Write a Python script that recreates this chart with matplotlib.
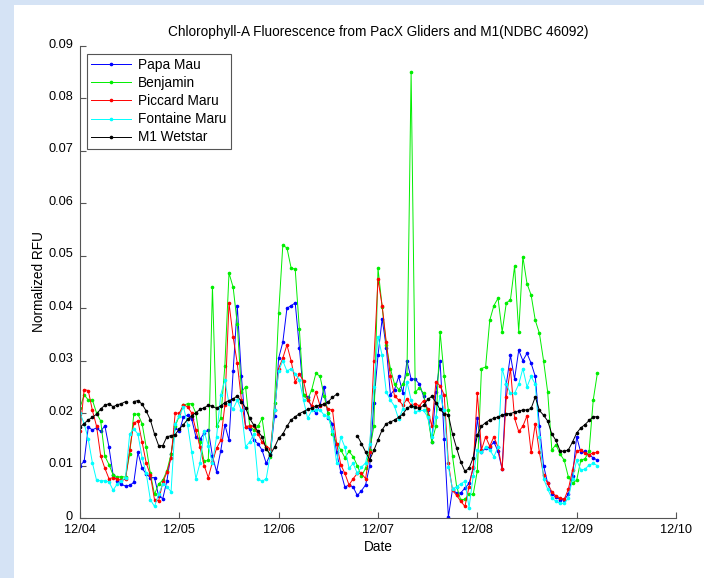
import numpy as np
import pandas as pd
import matplotlib
matplotlib.use("Agg")
import matplotlib.pyplot as plt
import matplotlib.dates as mdates
import matplotlib.transforms as mtransforms
from matplotlib.patches import Rectangle

plt.rcParams['font.family'] = ['Liberation Sans', 'DejaVu Sans']

start = "2010-12-04 00:00"
xlim_dates = ["2010-12-04", "2010-12-10"]
series_names = ["Papa Mau", "Benjamin", "Piccard Maru", "Fontaine Maru", "M1 Wetstar"]
series_colors = ["#0000ff", "#00ee00", "#ff0000", "#00ffff", "#000000"]
nan = np.nan

# hourly samples from 12/04 00:00
papa_mau = [
    0.010, 0.0108, 0.0173, 0.0168, 0.0172, 0.0165, 0.0176, 0.0135, 0.0082, 0.0071, 0.0064, 0.0061,
    0.0062, 0.0068, 0.0125, 0.0095, 0.0084, 0.0077, 0.0077, 0.0042, 0.0037, 0.0071, 0.0122, 0.0172,
    0.0165, 0.0193, 0.0196, 0.0188, 0.0155, 0.015, 0.0162, 0.0168, 0.0118, 0.0088, 0.0128, 0.0178,
    0.0148, 0.028, 0.0405, 0.027, 0.0174, 0.017, 0.0148, 0.0142, 0.0129, 0.0104, 0.0122, 0.0195,
    0.0305, 0.0335, 0.040, 0.0405, 0.041, 0.0325, 0.0235, 0.023, 0.021, 0.020, 0.0215, 0.025,
    0.019, 0.018, 0.0125, 0.0088, 0.0059, 0.0063, 0.0059, 0.0043, 0.0052, 0.0063, 0.010, 0.022,
    0.031, 0.038, 0.0325, 0.0235, 0.0245, 0.027, 0.0238, 0.030, 0.0265, 0.0265, 0.0255, 0.0232,
    0.0206, 0.0145, 0.024, 0.030, 0.015, 0.0002, 0.0055, 0.0047, 0.0048, 0.0057, 0.0066, 0.0095,
    0.019, 0.0125, 0.0133, 0.0135, 0.0145, 0.0127, 0.0093, 0.0255, 0.031, 0.0265, 0.032, 0.030,
    0.0314, 0.0295, 0.027, 0.0175, 0.010, 0.0066, 0.0045, 0.004, 0.0035, 0.0035, 0.0045, 0.008,
    0.0155, 0.0125, 0.0127, 0.012, 0.0115, 0.011,
]
benjamin = [
    0.021, 0.0235, 0.0225, 0.0225, 0.020, 0.0185, 0.0118, 0.0102, 0.0082, 0.0078, 0.0079, 0.0078,
    0.0122, 0.0198, 0.0198, 0.018, 0.0135, 0.0085, 0.0045, 0.0065, 0.0072, 0.009, 0.0122, 0.0175,
    0.0195, 0.0215, 0.0218, 0.0218, 0.020, 0.0145, 0.0108, 0.011, 0.0441, 0.0175, 0.019, 0.029,
    0.0467, 0.044, 0.037, 0.024, 0.025, 0.0175, 0.0168, 0.0175, 0.019, 0.0135, 0.0117, 0.022,
    0.039, 0.052, 0.0515, 0.0477, 0.0474, 0.036, 0.0235, 0.0225, 0.0245, 0.0276, 0.027, 0.0232,
    0.020, 0.016, 0.0142, 0.013, 0.0115, 0.0127, 0.0117, 0.010, 0.008, 0.0095, 0.013, 0.0175,
    0.0476, 0.0403, 0.033, 0.0285, 0.0255, 0.0245, 0.0255, 0.0275, 0.085, 0.024, 0.0248, 0.0238,
    0.0195, 0.0145, 0.0175, 0.0355, 0.027, 0.0205, 0.0118, 0.006, 0.0034, 0.0036, 0.0045, 0.0045,
    0.009, 0.0285, 0.0288, 0.0377, 0.0405, 0.0419, 0.0355, 0.041, 0.0416, 0.048, 0.0355, 0.0498,
    0.0447, 0.0425, 0.0377, 0.0352, 0.030, 0.024, 0.013, 0.014, 0.0122, 0.011, 0.0078, 0.0067,
    0.0072, 0.011, 0.0113, 0.0127, 0.0225, 0.0276,
]
piccard_maru = [
    0.0165, 0.0245, 0.0243, 0.0205, 0.0175, 0.0118, 0.0095, 0.0075, 0.0077, 0.0074, 0.0072, 0.0074,
    0.013, 0.0181, 0.0185, 0.0145, 0.0105, 0.0082, 0.0035, 0.0033, 0.0068, 0.0087, 0.0115, 0.020,
    0.020, 0.0216, 0.0212, 0.020, 0.0168, 0.0135, 0.010, 0.0077, 0.0107, 0.0133, 0.0148, 0.0215,
    0.041, 0.0345, 0.0295, 0.0225, 0.0174, 0.0176, 0.0175, 0.016, 0.0145, 0.0136, 0.0132, 0.0205,
    0.0285, 0.0305, 0.033, 0.030, 0.026, 0.0274, 0.0262, 0.0225, 0.0214, 0.024, 0.0214, 0.0218,
    0.0207, 0.0206, 0.0142, 0.0102, 0.0085, 0.0063, 0.0075, 0.0085, 0.0085, 0.0075, 0.0125, 0.030,
    0.0455, 0.0405, 0.0335, 0.027, 0.0233, 0.0225, 0.0215, 0.0227, 0.0215, 0.0218, 0.0214, 0.0224,
    0.0208, 0.0175, 0.026, 0.0252, 0.0235, 0.0105, 0.0053, 0.0043, 0.0032, 0.0022, 0.006, 0.0098,
    0.0238, 0.013, 0.0155, 0.0137, 0.0155, 0.0135, 0.0093, 0.023, 0.0285, 0.019, 0.0165, 0.0175,
    0.0195, 0.0125, 0.018, 0.0125, 0.0082, 0.0066, 0.005, 0.0042, 0.0038, 0.0036, 0.0055, 0.0092,
    0.0127, 0.013, 0.0123, 0.0121, 0.0124, 0.0125,
]
fontaine_maru = [
    0.020, 0.018, 0.015, 0.0105, 0.0072, 0.0071, 0.0071, 0.0069, 0.0053, 0.0065, 0.0071, 0.0077,
    0.016, 0.017, 0.016, 0.0115, 0.0085, 0.0035, 0.0022, 0.0045, 0.0065, 0.006, 0.005, 0.018,
    0.0195, 0.0212, 0.0178, 0.0125, 0.0075, 0.0105, 0.0165, 0.0138, 0.0104, 0.0155, 0.0235, 0.0263,
    0.0218, 0.0208, 0.0225, 0.0205, 0.0136, 0.0145, 0.016, 0.0075, 0.007, 0.0075, 0.0122, 0.0205,
    0.028, 0.030, 0.028, 0.0285, 0.0275, 0.0263, 0.0225, 0.019, 0.0205, 0.0206, 0.0206, 0.0196,
    0.0193, 0.0165, 0.0105, 0.0155, 0.0135, 0.0095, 0.0104, 0.0085, 0.0097, 0.0105, 0.0142, 0.025,
    0.0346, 0.031, 0.024, 0.0225, 0.0213, 0.0188, 0.0208, 0.026, 0.0225, 0.0202, 0.0205, 0.0205,
    0.0193, 0.0155, 0.0193, 0.0233, 0.0205, 0.0098, 0.0055, 0.006, 0.0065, 0.007, 0.002, 0.008,
    0.013, 0.0125, 0.0135, 0.013, 0.0117, 0.0135, 0.0285, 0.0255, 0.0238, 0.0238, 0.0255, 0.0285,
    0.025, 0.027, 0.0255, 0.0155, 0.0075, 0.0055, 0.0038, 0.0032, 0.0028, 0.0028, 0.0038, 0.0075,
    0.011, 0.0092, 0.0093, 0.0101, 0.0104, 0.010,
]
m1_wetstar = [
    0.0173, 0.018, 0.0187, 0.0192, 0.0198, 0.0208, 0.0215, 0.0218, 0.0212, 0.0216, 0.0218, 0.0222,
    nan, 0.0222, 0.0224, 0.0217, 0.0204, 0.0187, 0.016, 0.0138, 0.0138, 0.0155, 0.0157, 0.0159,
    0.017, 0.0178, 0.0188, 0.0195, 0.0201, 0.0207, 0.021, 0.0215, 0.0213, 0.0209, 0.0214, 0.022,
    0.0224, 0.0227, 0.0233, 0.0222, 0.021, 0.019, 0.0177, 0.0165, 0.0155, 0.0132, 0.0121, 0.0135,
    0.0152, 0.016, 0.0175, 0.0187, 0.0193, 0.0199, 0.0203, 0.0207, 0.021, 0.0213, 0.0215, 0.0217,
    0.0222, 0.023, 0.0236, nan, nan, nan, nan, 0.0157, 0.0142, 0.0126, 0.0111, 0.0129,
    0.0149, 0.0168, 0.018, 0.0183, 0.0187, 0.0192, 0.0198, 0.0209, 0.0214, 0.0211, 0.0209, 0.0215,
    0.0226, 0.0232, 0.022, 0.0207, 0.0199, 0.0197, 0.016, 0.0133, 0.0107, 0.0089, 0.0095, 0.0115,
    0.0158, 0.0175, 0.0182, 0.0187, 0.019, 0.0193, 0.0196, 0.0199, 0.0199, 0.0202, 0.0204, 0.0206,
    0.0206, 0.0209, 0.0231, 0.0205, 0.0196, 0.0185, 0.016, 0.0148, 0.0128, 0.0127, 0.013, 0.0145,
    0.0162, 0.0172, 0.0178, 0.0186, 0.0193, 0.0193,
]
y_ticks = [0, 0.01, 0.02, 0.03, 0.04, 0.05, 0.06, 0.07, 0.08, 0.09]
y_tick_labels = ["0", "0.01", "0.02", "0.03", "0.04", "0.05", "0.06", "0.07", "0.08", "0.09"]

all_series = [papa_mau, benjamin, piccard_maru, fontaine_maru, m1_wetstar]

W, H = 704, 578
fig = plt.figure(figsize=(W / 100, H / 100), dpi=100)
fig.patch.set_facecolor("#d5e3f5")
fig.add_artist(Rectangle((14 / W, 0), 1 - 14 / W, 1 - 5 / H, transform=fig.transFigure,
                         facecolor="white", edgecolor="none", zorder=-10))

ax = fig.add_axes([80 / W, 60 / H, 596 / W, 472 / H])
ax.set_facecolor("white")

for vals, name, col in zip(all_series, series_names, series_colors):
    t = pd.date_range(start, periods=len(vals), freq="h")
    ax.plot(t, vals, color=col, lw=0.7, marker=".", ms=3.2, label=name)

ax.set_xlim(pd.Timestamp(xlim_dates[0]), pd.Timestamp(xlim_dates[1]))
ax.set_ylim(0, 0.09)
ax.xaxis.set_major_locator(mdates.DayLocator())
ax.xaxis.set_major_formatter(mdates.DateFormatter("%m/%d"))
ax.set_yticks(y_ticks)
ax.set_yticklabels(y_tick_labels)

for s in ["top", "right"]:
    ax.spines[s].set_visible(False)
for s in ["left", "bottom"]:
    ax.spines[s].set_color("#555555")
    ax.spines[s].set_linewidth(0.8)
ax.tick_params(direction="in", length=4, width=0.8, color="#555555", labelsize=9.2)
ax.tick_params(axis="y", pad=5)
ax.tick_params(axis="x", pad=4)

# MATLAB places y tick labels slightly above the tick
up = mtransforms.ScaledTranslation(0, 3 / 100, fig.dpi_scale_trans)
for lab in ax.get_yticklabels():
    lab.set_transform(lab.get_transform() + up)

ax.set_title("Chlorophyll-A Fluorescence from PacX Gliders and M1(NDBC 46092)", fontsize=9.8, pad=7)
ax.set_xlabel("Date", fontsize=9.8, labelpad=3)
ax.set_ylabel("Normalized RFU", fontsize=9.8, labelpad=1.5)

leg = ax.legend(loc="upper left", bbox_to_anchor=(7 / 596, 1 - 8 / 472), borderaxespad=0,
                fontsize=9.8, handlelength=2.95, labelspacing=0.3, fancybox=False,
                framealpha=1, edgecolor="#555555", borderpad=0.3, handletextpad=0.5)
leg.get_frame().set_linewidth(0.8)

fig.savefig("out.png", dpi=100, facecolor=fig.get_facecolor())
